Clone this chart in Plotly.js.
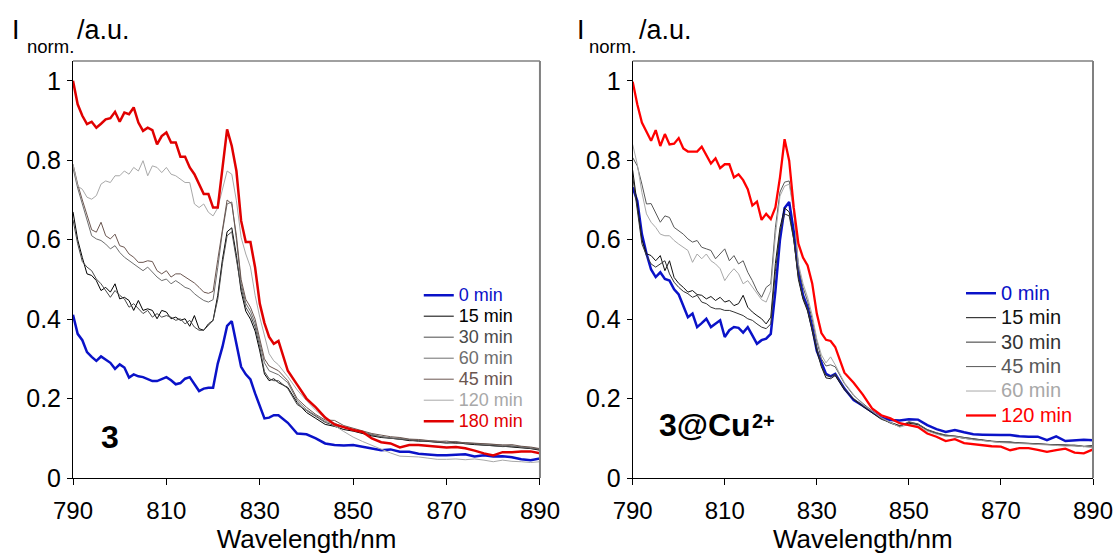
<!DOCTYPE html>
<html><head><meta charset="utf-8">
<script src="https://cdn.plot.ly/plotly-3.0.1.min.js"></script>
<style>html,body{margin:0;padding:0;background:#fff}#chart{width:1118px;height:554px}</style>
</head><body><div id="chart"></div>
<script>
const wavelength = [790,791,792,793,794,795,796,797,798,799,800,801,802,803,804,805,806,807,808,809,810,811,812,813,814,815,816,817,818,819,820,821,822,823,824,825,826,827,828,829,830,831,832,833,834,836,838,840,842,844,846,848,850,852,854,856,858,860,862,864,866,868,870,872,874,876,878,880,882,884,886,888,890];

// Left panel: compound 3
const leftLabels = ['0 min','15 min','30 min','60 min','45 min','120 min','180 min'];
const left0 = [.411,.363,.347,.317,.305,.295,.306,.298,.290,.275, .286,.278,.253,.261,.256,.254,.248,.244,.244,.248, .254,.246,.236,.239,.250,.254,.238,.219,.225,.227, .227,.288,.330,.383,.395,.338,.280,.261,.248,.213, .183,.150,.152,.158,.158, .139,.112,.110,.100,.087,.083,.082,.083,.079,.075,.070,.072,.066,.066,.061,.059,.057,.057,.058,.060,.054,.057,.054,.055,.052,.047,.045,.049];
const left15 = [.670,.600,.555,.514,.510,.497,.472,.480,.468,.489, .451,.455,.447,.422,.447,.422,.426,.422,.401,.422, .418,.401,.405,.397,.401,.382,.409,.376,.372,.388, .397,.460,.550,.620,.630,.560,.470,.420,.400,.370, .320,.262,.245,.250,.240, .228,.190,.165,.150,.135,.130,.122,.118,.112,.106,.102,.100,.098,.094,.094,.092,.090,.088,.090,.086,.084,.083,.082,.080,.078,.076,.074,.070];
const left30 = [.650,.590,.545,.531,.522,.501,.489,.472,.455,.472, .460,.451,.430,.439,.426,.414,.422,.405,.414,.405, .409,.405,.397,.401,.388,.397,.380,.372,.372,.384, .397,.450,.540,.610,.620,.550,.480,.430,.410,.380, .330,.268,.250,.245,.245, .225,.185,.170,.155,.140,.132,.128,.120,.114,.108,.104,.100,.097,.096,.092,.093,.090,.089,.087,.088,.085,.083,.081,.079,.080,.077,.075,.072];
const left60 = [.780,.730,.690,.650,.610,.602,.598,.589,.577,.585, .568,.556,.547,.539,.531,.522,.531,.518,.506,.497, .501,.489,.497,.489,.480,.476,.464,.455,.447,.443, .449,.530,.620,.690,.695,.600,.490,.440,.420,.390, .340,.290,.270,.265,.260, .240,.195,.172,.158,.142,.138,.128,.122,.116,.110,.104,.101,.100,.097,.095,.094,.093,.090,.092,.088,.087,.086,.084,.083,.081,.079,.076,.073];
const left45 = [.790,.740,.700,.665,.625,.619,.644,.610,.602,.614, .585,.581,.564,.556,.543,.543,.547,.545,.522,.514, .522,.506,.514,.514,.506,.499,.491,.480,.468,.465, .470,.550,.630,.700,.690,.610,.500,.450,.430,.400, .350,.300,.282,.275,.270, .245,.200,.178,.160,.146,.145,.132,.125,.118,.112,.108,.104,.102,.098,.097,.095,.092,.093,.090,.089,.088,.086,.085,.083,.084,.080,.078,.074];
const left120 = [.790,.735,.727,.707,.702,.711,.740,.748,.744,.761, .761,.773,.765,.782,.773,.799,.761,.786,.782,.769, .782,.765,.761,.753,.744,.744,.690,.681,.690,.669, .660,.680,.730,.773,.765,.698,.606,.564,.531,.460, .405,.355,.313,.295,.285, .255,.222,.195,.170,.150,.132,.117,.103,.092,.082,.072,.063,.055,.054,.053,.050,.047,.047,.048,.046,.048,.045,.041,.045,.042,.041,.039,.041];
const left180 = [1.0,.941,.912,.891,.897,.882,.892,.903,.906,.922, .897,.920,.916,.933,.895,.874,.882,.876,.840,.861, .870,.845,.845,.809,.809,.782,.765,.740,.715,.715, .681,.681,.780,.878,.836,.773,.648,.594,.594,.530, .439,.390,.355,.338,.345, .270,.235,.200,.178,.152,.135,.128,.121,.116,.100,.090,.087,.077,.083,.083,.081,.078,.077,.078,.075,.069,.062,.057,.065,.065,.067,.067,.062];

// Right panel: 3@Cu2+
const rightLabels = ['0 min','15 min','30 min','45 min','60 min','120 min'];
const right0 = [.732,.698,.614,.565,.525,.506,.518,.501,.497,.475, .462,.435,.405,.414,.380,.390,.401,.380,.388,.397, .355,.372,.380,.378,.366,.380,.359,.338,.347,.351, .363,.470,.600,.680,.695,.620,.520,.460,.430,.380, .320,.290,.262,.256,.262, .225,.196,.182,.168,.152,.146,.145,.148,.147,.133,.123,.116,.121,.115,.110,.109,.108,.108,.108,.105,.104,.104,.095,.105,.093,.095,.096,.095];
const right15 = [.775,.690,.600,.565,.560,.547,.560,.522,.547,.505, .490,.480,.468,.472,.462,.460,.451,.457,.447,.455, .443,.447,.434,.439,.460,.430,.418,.409,.401,.388, .405,.540,.630,.680,.670,.600,.500,.450,.420,.370, .320,.280,.252,.250,.258, .222,.198,.180,.165,.148,.140,.132,.138,.134,.120,.112,.106,.104,.100,.097,.094,.092,.090,.090,.087,.087,.085,.084,.083,.082,.082,.079,.082];
const right30 = [.760,.680,.590,.560,.539,.531,.540,.547,.514,.493, .480,.470,.464,.455,.460,.443,.439,.430,.426,.426, .422,.422,.418,.414,.409,.401,.397,.388,.380,.376, .388,.520,.620,.665,.660,.600,.505,.455,.425,.375, .325,.282,.258,.255,.262, .225,.200,.182,.168,.150,.138,.130,.140,.136,.122,.114,.108,.105,.102,.098,.095,.093,.091,.090,.088,.087,.086,.085,.083,.083,.081,.080,.078];
const right45 = [.807,.786,.740,.690,.691,.669,.644,.660,.656,.631, .623,.614,.602,.594,.598,.581,.577,.573,.552,.564, .577,.547,.560,.539,.547,.518,.497,.472,.455,.480, .489,.630,.720,.745,.748,.675,.530,.480,.445,.400, .345,.300,.282,.285,.280, .238,.208,.188,.170,.150,.139,.130,.142,.136,.121,.113,.108,.106,.102,.099,.096,.092,.091,.091,.088,.087,.086,.085,.083,.082,.083,.080,.081];
const right60 = [.840,.790,.719,.665,.644,.631,.614,.610,.610,.598, .589,.581,.573,.543,.564,.552,.564,.547,.539,.527, .497,.514,.527,.514,.489,.497,.480,.464,.449,.443, .472,.610,.710,.735,.740,.670,.540,.490,.455,.410, .350,.310,.290,.305,.285, .240,.210,.185,.168,.152,.140,.128,.135,.132,.118,.110,.105,.104,.100,.096,.094,.091,.089,.088,.087,.086,.084,.083,.082,.080,.081,.079,.077];
const right120 = [.998,.941,.895,.870,.849,.876,.836,.866,.840,.842, .856,.830,.822,.822,.822,.834,.811,.792,.805,.780, .790,.790,.757,.765,.750,.727,.686,.696,.650,.665, .652,.681,.757,.853,.799,.680,.590,.555,.535,.490, .414,.365,.348,.345,.330, .265,.240,.210,.175,.158,.150,.138,.133,.128,.112,.104,.093,.098,.088,.085,.083,.080,.079,.070,.075,.075,.071,.066,.070,.074,.064,.062,.072];

const xTicks = [790,810,830,850,870,890];
const yTicks = [0,0.2,0.4,0.6,0.8,1];
const yTickText = ['0','0.2','0.4','0.6','0.8','1'];

const FONT = 'Liberation Sans, Arial, Helvetica, sans-serif';
const leftColors = ['#0a12c8','#000000','#4a4a4a','#6e6e6e','#6b5650','#a8a8a8','#e00000'];
const leftWidths = [2.5,1,1,1,1,1,2.5];
const rightColors = ['#0a12c8','#111111','#333333','#585858','#a8a8a8','#ff0000'];
const rightWidths = [2.5,1,1,1,1,2.3];
const leftSeries = [left0,left15,left30,left60,left45,left120,left180];
const rightSeries = [right0,right15,right30,right45,right60,right120];

const traces = [];
leftSeries.forEach((ys,i)=>{
  traces.push({type:'scatter',mode:'lines',x:wavelength,y:ys,xaxis:'x',yaxis:'y',legend:'legend',
    name:'<span style="color:'+leftColors[i]+';font-size:18px">'+leftLabels[i]+'</span>',
    line:{color:leftColors[i],width:leftWidths[i]},hoverinfo:'skip'});
});
rightSeries.forEach((ys,i)=>{
  traces.push({type:'scatter',mode:'lines',x:wavelength,y:ys,xaxis:'x2',yaxis:'y2',legend:'legend2',
    name:'<span style="color:'+rightColors[i]+';font-size:20px">'+rightLabels[i]+'</span>',
    line:{color:rightColors[i],width:rightWidths[i]},hoverinfo:'skip'});
});

function xAxis(domain, anchor){
  return {domain:domain, anchor:anchor, range:[790,890], tickvals:xTicks, ticktext:xTicks.map(String),
    ticks:'outside', ticklen:6, tickwidth:1, tickcolor:'#000', showline:true, linecolor:'#000', linewidth:1,
    showgrid:false, zeroline:false, ticklabelstandoff:5,
    tickfont:{family:FONT,size:24,color:'#000'},
    title:{text:'Wavelength/nm', font:{family:FONT,size:26,color:'#000'}, standoff:9}};
}
function yAxis(anchor){
  return {domain:[0,1], anchor:anchor, range:[0,1.05], tickvals:yTicks, ticktext:yTickText,
    ticks:'outside', ticklen:5, tickwidth:1, tickcolor:'#000', showline:true, linecolor:'#000', linewidth:1,
    showgrid:false, zeroline:false, ticklabelstandoff:1,
    tickfont:{family:FONT,size:25,color:'#000'}};
}
function frame(xr, yr){
  return [
    {type:'line', xref:xr+' domain', yref:yr+' domain', x0:0, x1:1, y0:1, y1:1, line:{color:'#808080', width:1.5}},
    {type:'line', xref:xr+' domain', yref:yr+' domain', x0:1, x1:1, y0:0, y1:1, line:{color:'#808080', width:2}}
  ];
}
function ylabel(xI, xSub, xUnit){
  return [
    {xref:'paper', yref:'paper', x:xI, y:1.0739, xanchor:'left', yanchor:'middle', showarrow:false,
     text:'I', font:{family:FONT,size:27,color:'#000'}},
    {xref:'paper', yref:'paper', x:xSub, y:1.0336, xanchor:'left', yanchor:'middle', showarrow:false,
     text:'norm.', font:{family:FONT,size:18.5,color:'#000'}},
    {xref:'paper', yref:'paper', x:xUnit, y:1.0739, xanchor:'left', yanchor:'middle', showarrow:false,
     text:'/a.u.', font:{family:FONT,size:27,color:'#000'}}
  ];
}
const legendBase = {xanchor:'left', yanchor:'top', bgcolor:'rgba(0,0,0,0)', borderwidth:0, itemwidth:30, tracegroupgap:0, itemclick:false, itemdoubleclick:false};

const layout = {
  width:1118, height:554, margin:{l:73, r:25, t:61, b:76},
  paper_bgcolor:'#fff', plot_bgcolor:'#fff', font:{family:FONT, color:'#000'},
  xaxis: xAxis([0,0.4578],'y'),
  yaxis: yAxis('x'),
  xaxis2: xAxis([0.5487,1],'y2'),
  yaxis2: yAxis('x2'),
  legend: Object.assign({}, legendBase, {x:0.339, y:0.4756, font:{family:FONT,size:13.85,color:'#000'}}),
  legend2: Object.assign({}, legendBase, {x:0.8706, y:0.4844, font:{family:FONT,size:16.5,color:'#000'}}),
  shapes: frame('x','y').concat(frame('x2','y2')),
  annotations: ylabel(-0.0613, -0.0471, 0.0020).concat(ylabel(0.4919, 0.5037, 0.5527)).concat([
    {xref:'paper', yref:'paper', x:0.0258, y:0.0995, xanchor:'left', yanchor:'middle', showarrow:false,
     text:'<b>3</b>', font:{family:FONT,size:32,color:'#000'}},
    {xref:'paper', yref:'paper', x:0.5725, y:0.1259, xanchor:'left', yanchor:'middle', showarrow:false,
     text:'<b>3@Cu</b>', font:{family:FONT,size:32,color:'#000'}},
    {xref:'paper', yref:'paper', x:0.6637, y:0.1367, xanchor:'left', yanchor:'middle', showarrow:false,
     text:'<b>2+</b>', font:{family:FONT,size:20,color:'#000'}}
  ]),
  showlegend:true
};

Plotly.newPlot('chart', traces, layout, {displayModeBar:false, staticPlot:true});
</script>
</body></html>
